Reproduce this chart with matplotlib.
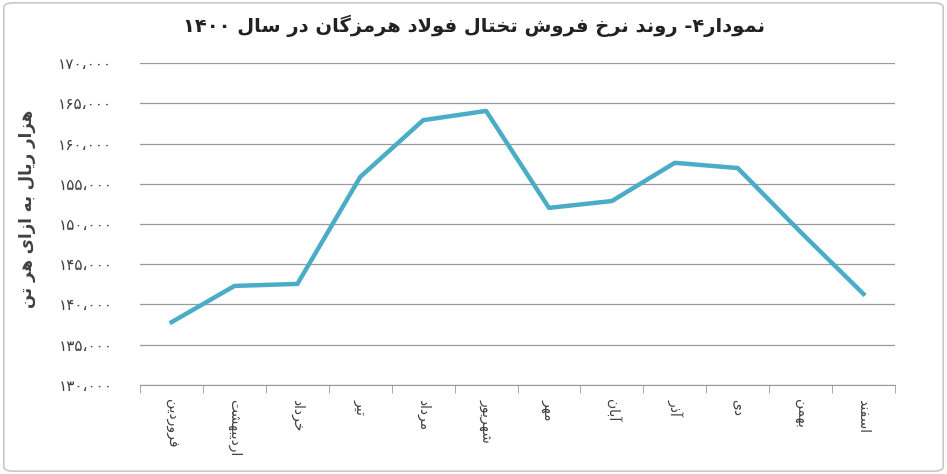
import matplotlib
matplotlib.use('Agg')
import matplotlib.pyplot as plt
from matplotlib.patches import FancyBboxPatch

# presentation forms: isolated, final, initial, medial
FORMS = {
    'ا': ('\uFE8D', '\uFE8E'), 'آ': ('\uFE81', '\uFE82'),
    'د': ('\uFEA9', '\uFEAA'), 'ذ': ('\uFEAB', '\uFEAC'),
    'ر': ('\uFEAD', '\uFEAE'), 'ز': ('\uFEAF', '\uFEB0'),
    'و': ('\uFEED', '\uFEEE'),
    'ب': ('\uFE8F', '\uFE90', '\uFE91', '\uFE92'),
    'ت': ('\uFE95', '\uFE96', '\uFE97', '\uFE98'),
    'خ': ('\uFEA5', '\uFEA6', '\uFEA7', '\uFEA8'),
    'س': ('\uFEB1', '\uFEB2', '\uFEB3', '\uFEB4'),
    'ش': ('\uFEB5', '\uFEB6', '\uFEB7', '\uFEB8'),
    'ف': ('\uFED1', '\uFED2', '\uFED3', '\uFED4'),
    'ل': ('\uFEDD', '\uFEDE', '\uFEDF', '\uFEE0'),
    'م': ('\uFEE1', '\uFEE2', '\uFEE3', '\uFEE4'),
    'ن': ('\uFEE5', '\uFEE6', '\uFEE7', '\uFEE8'),
    'ه': ('\uFEE9', '\uFEEA', '\uFEEB', '\uFEEC'),
    'ی': ('\uFEEF', '\uFEF0', '\uFEF3', '\uFEF4'),
    'گ': ('\uFB92', '\uFB93', '\uFB94', '\uFB95'),
}
DIGITS = '۰۱۲۳۴۵۶۷۸۹،'


def shape(s):
    chars = list(s)
    out = []
    i = 0
    while i < len(chars):
        c = chars[i]
        if c not in FORMS:
            out.append(c)
            i += 1
            continue
        prev = chars[i - 1] if i > 0 else ''
        jp = prev in FORMS and len(FORMS[prev]) == 4
        # lam-alef ligature
        if c == 'ل' and i + 1 < len(chars) and chars[i + 1] == 'ا':
            out.append('\uFEFC' if jp else '\uFEFB')
            i += 2
            continue
        nxt = chars[i + 1] if i + 1 < len(chars) else ''
        jn = len(FORMS[c]) == 4 and nxt in FORMS
        f = FORMS[c]
        if jp and jn:
            out.append(f[3])
        elif jp:
            out.append(f[1])
        elif jn:
            out.append(f[2])
        else:
            out.append(f[0])
        i += 1
    # visual order: reverse, keep digit runs left to right
    vis = ''.join(out)[::-1]
    res, run = '', ''
    for c in vis:
        if c in DIGITS:
            run += c
        else:
            res += run[::-1] + c
            run = ''
    return res + run[::-1]


months = ['فروردین', 'اردیبهشت', 'خرداد', 'تیر', 'مرداد', 'شهریور',
          'مهر', 'آبان', 'آذر', 'دی', 'بهمن', 'اسفند']
prices = [137800, 142300, 142550, 155850, 162900, 164050,
          152000, 152850, 157600, 156950, 149000, 141300]
yticks = [130000, 135000, 140000, 145000, 150000, 155000, 160000, 165000, 170000]
ytick_labels = ['۱۳۰،۰۰۰', '۱۳۵،۰۰۰', '۱۴۰،۰۰۰', '۱۴۵،۰۰۰', '۱۵۰،۰۰۰',
                '۱۵۵،۰۰۰', '۱۶۰،۰۰۰', '۱۶۵،۰۰۰', '۱۷۰،۰۰۰']
title = 'نمودار۴- روند نرخ فروش تختال فولاد هرمزگان در سال ۱۴۰۰'
ylabel = 'هزار ریال به ازای هر تن'

plt.rcParams['font.family'] = ['DejaVu Sans']
fig = plt.figure(figsize=(9.47, 4.74), dpi=100)
fig.patches.append(FancyBboxPatch((0.004, 0.006), 0.992, 0.988,
                                  boxstyle='round,pad=0,rounding_size=0.01',
                                  transform=fig.transFigure, fill=False,
                                  edgecolor='#c8c8c8', linewidth=1.2))
ax = fig.add_axes([0.148, 0.188, 0.797, 0.679])

x = list(range(len(months)))
ax.plot(x, prices, color='#4BACC6', linewidth=3.2, solid_joinstyle='round')
ax.set_xlim(-0.5, len(months) - 0.5)
ax.set_ylim(130000, 170000)
ax.set_yticks(yticks)
ax.set_yticklabels(ytick_labels, fontsize=11, color='#404040')
ax.yaxis.grid(True, color='#999999', linewidth=0.9)
ax.set_axisbelow(True)
ax.set_xticks(x)
ax.set_xticklabels([shape(m) for m in months], rotation=-90, fontsize=10,
                   va='top', color='#404040')
ax.tick_params(axis='x', length=0, pad=10)
ax.set_xticks([i - 0.5 for i in range(len(months) + 1)], minor=True)
ax.tick_params(axis='x', which='minor', length=6, color='#999999')
ax.tick_params(axis='y', length=0, pad=20)
for s in ['top', 'right', 'left']:
    ax.spines[s].set_visible(False)
ax.spines['bottom'].set_color('#999999')

fig.text(0.5, 0.945, shape(title), ha='center', va='center', fontsize=14,
         fontweight='bold', color='#222222')
fig.text(0.028, 0.56, shape(ylabel), rotation=90, ha='center', va='center',
         fontsize=12, fontweight='bold', color='#404040')

fig.savefig('out.png', dpi=100)
